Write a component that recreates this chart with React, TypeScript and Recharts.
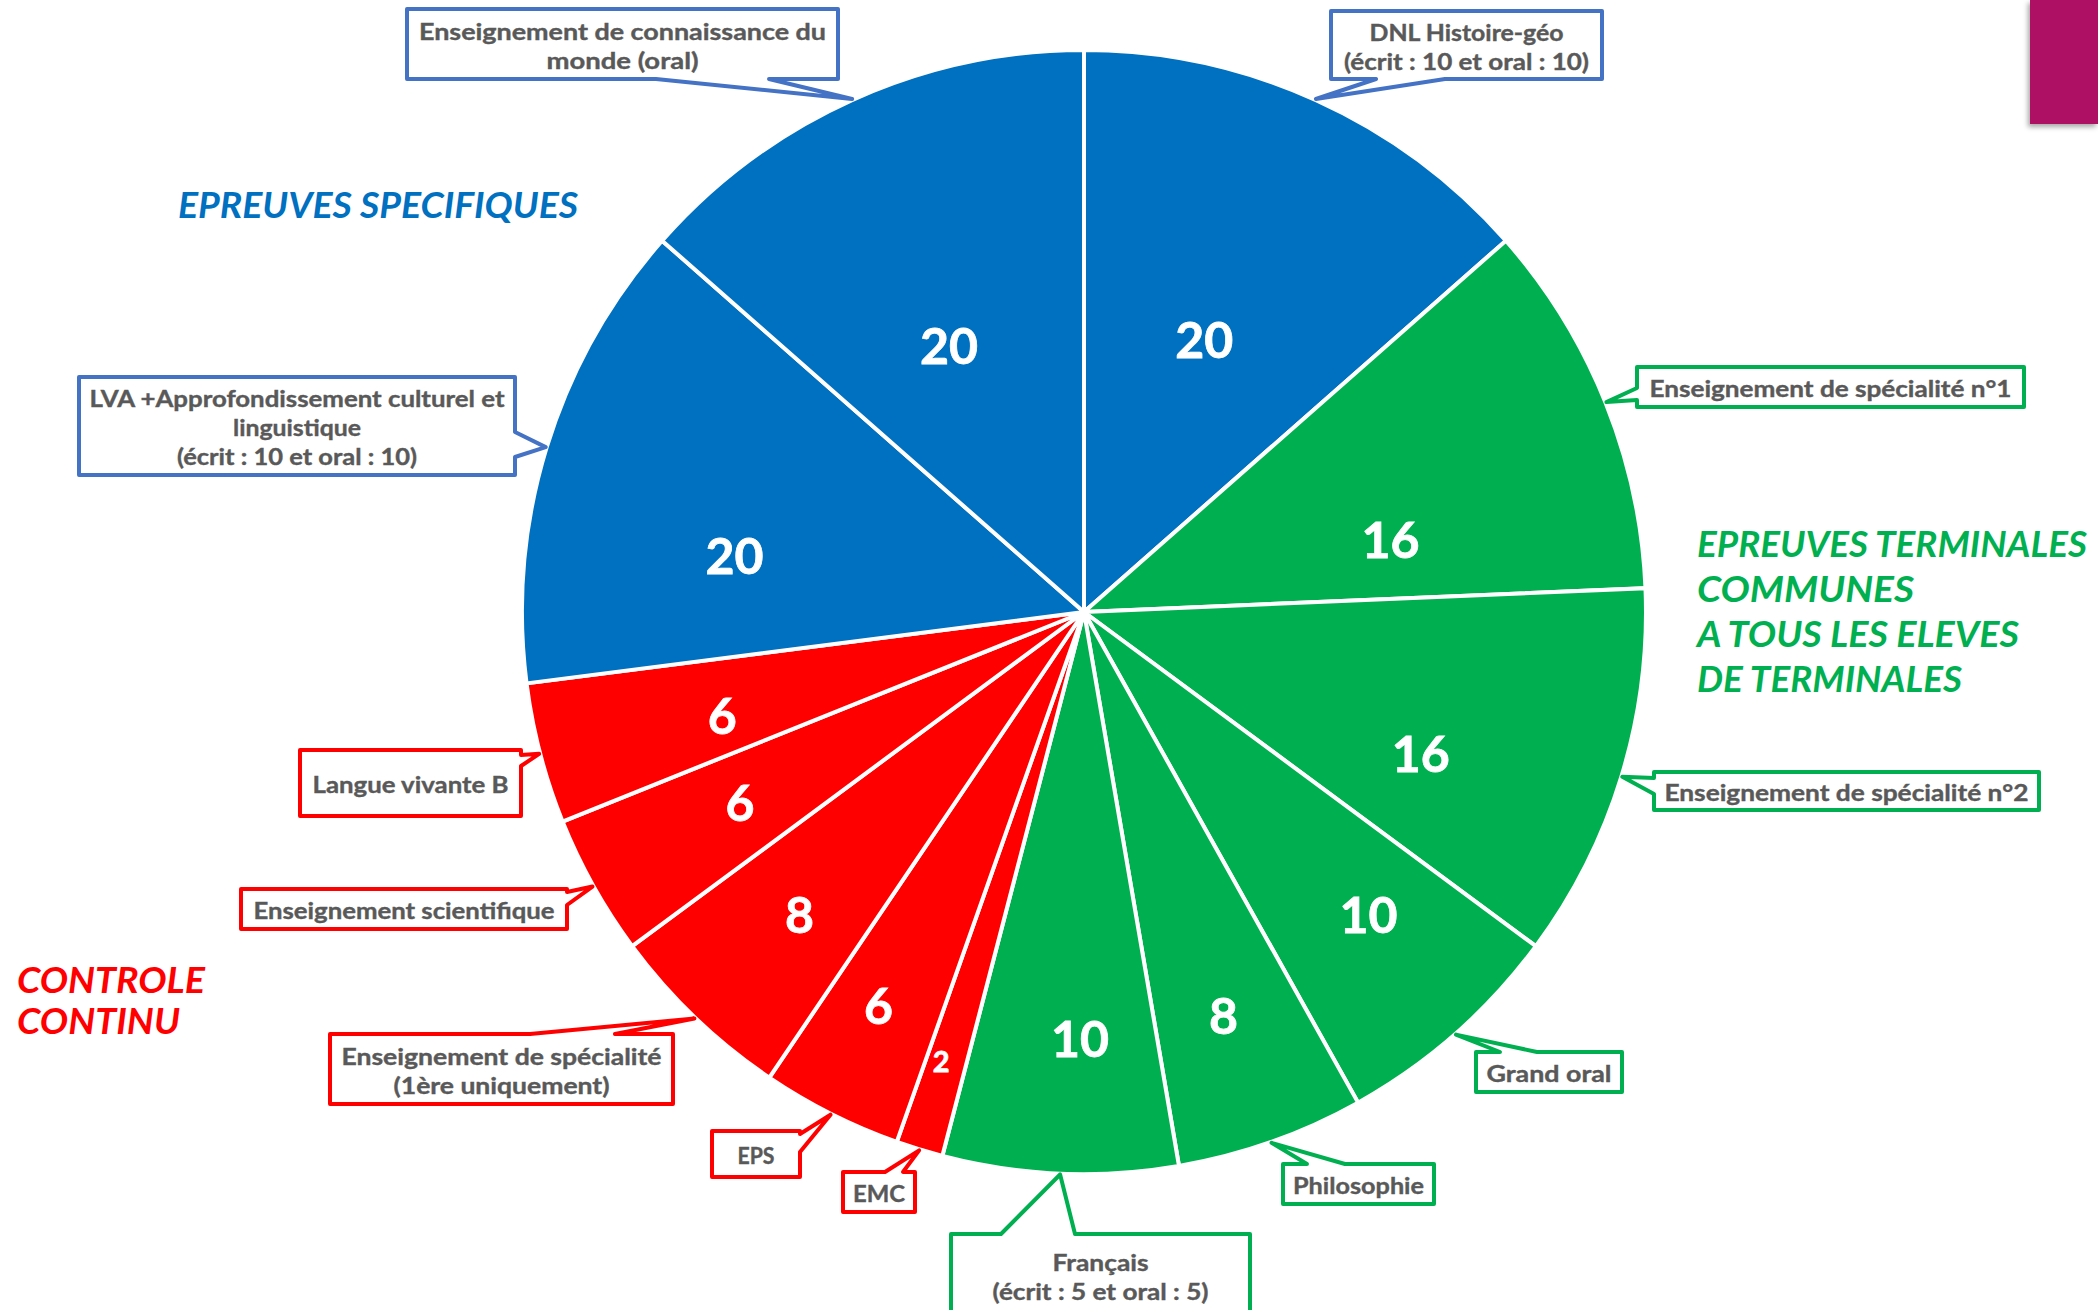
import React from "react"
import { PieChart, Pie, Cell } from "recharts"

// slices clockwise from 12 o'clock
const subjects = [
  "DNL Histoire-géo",
  "Enseignement de spécialité n°1",
  "Enseignement de spécialité n°2",
  "Grand oral",
  "Philosophie",
  "Français",
  "EMC",
  "EPS",
  "Enseignement de spécialité (1ère uniquement)",
  "Enseignement scientifique",
  "Langue vivante B",
  "LVA +Approfondissement culturel et linguistique",
  "Enseignement de connaissance du monde (oral)",
]
const coefficients = [20, 16, 16, 10, 8, 10, 2, 6, 8, 6, 6, 20, 20]
const groups = ["spe", "tc", "tc", "tc", "tc", "tc", "cc", "cc", "cc", "cc", "cc", "spe", "spe"]

const calloutLines = [
  ["DNL Histoire-géo", "(écrit : 10 et oral : 10)"],
  ["Enseignement de spécialité n°1"],
  ["Enseignement de spécialité n°2"],
  ["Grand oral"],
  ["Philosophie"],
  ["Français", "(écrit : 5 et oral : 5)"],
  ["EMC"],
  ["EPS"],
  ["Enseignement de spécialité", "(1ère uniquement)"],
  ["Enseignement scientifique"],
  ["Langue vivante B"],
  ["LVA +Approfondissement culturel et", "linguistique", "(écrit : 10 et oral : 10)"],
  ["Enseignement de connaissance du", "monde (oral)"],
]

const titleSpecifiques = ["EPREUVES SPECIFIQUES"]
const titleCommunes = ["EPREUVES TERMINALES", "COMMUNES", "A TOUS LES ELEVES", "DE TERMINALES"]
const titleContinu = ["CONTROLE", "CONTINU"]

// layout --------------------------------------------------------------
const FILL: Record<string, string> = { spe: "#0070C0", tc: "#00B050", cc: "#FF0000" }
const BORDER: Record<string, string> = { spe: "#4472C4", tc: "#00B050", cc: "#FF0000" }
const FONT = "Lato, 'Noto Sans', sans-serif"

const lineWidths = [
  [194, 245],
  [362],
  [364],
  [125],
  [131],
  [96, 216],
  [52],
  [37],
  [320, 216],
  [301],
  [196],
  [415, 128, 240],
  [407, 152],
]

type Box = { x: number; y: number; w: number; h: number; side: string; base: number[] }
const boxes: Box[] = [
  { x: 1331, y: 11, w: 271, h: 68, side: "bottom", base: [1376, 1445] },
  { x: 1637, y: 367, w: 387, h: 40, side: "left", base: [388, 400] },
  { x: 1654, y: 772, w: 385, h: 38, side: "left", base: [778, 794] },
  { x: 1476, y: 1052, w: 146, h: 40, side: "top", base: [1500, 1537] },
  { x: 1283, y: 1164, w: 151, h: 40, side: "top", base: [1307, 1345] },
  { x: 951, y: 1234, w: 299, h: 82, side: "top", base: [1001, 1075] },
  { x: 843, y: 1172, w: 72, h: 40, side: "top", base: [885, 903] },
  { x: 712, y: 1131, w: 88, h: 46, side: "right", base: [1134, 1152] },
  { x: 330, y: 1034, w: 343, h: 70, side: "top", base: [530, 615] },
  { x: 241, y: 889, w: 326, h: 40, side: "right", base: [892, 905] },
  { x: 300, y: 750, w: 221, h: 66, side: "right", base: [755, 766] },
  { x: 79, y: 377, w: 436, h: 98, side: "right", base: [432, 457] },
  { x: 407, y: 9, w: 431, h: 70, side: "bottom", base: [656, 769] },
]

// value label placement inside the slices (fraction of radius, clockwise nudge in degrees)
const valueRadius = [0.53, 0.56, 0.65, 0.74, 0.76, 0.76, 0.84, 0.79, 0.74, 0.7, 0.67, 0.63, 0.53]
const valueShift = [-0.5, 8.7, 5.8, -1.8, 0.4, -1.9, 0.6, 0.8, -0.6, 0.2, -1.5, -7.9, -2.6]

const data = subjects.map((name, i) => ({ name, value: coefficients[i], group: groups[i] }))

const RAD = Math.PI / 180
const polar = (cx: number, cy: number, r: number, angle: number) => [
  cx + r * Math.cos(-angle * RAD),
  cy + r * Math.sin(-angle * RAD),
]

function calloutPath(b: Box, tx: number, ty: number) {
  const { x, y, w, h, side, base } = b
  const pts: number[][] = [[x, y]]
  if (side === "top") pts.push([base[0], y], [tx, ty], [base[1], y])
  pts.push([x + w, y])
  if (side === "right") pts.push([x + w, base[0]], [tx, ty], [x + w, base[1]])
  pts.push([x + w, y + h])
  if (side === "bottom") pts.push([base[1], y + h], [tx, ty], [base[0], y + h])
  pts.push([x, y + h])
  if (side === "left") pts.push([x, base[1]], [tx, ty], [x, base[0]])
  return "M" + pts.map((p) => `${p[0]},${p[1]}`).join("L") + "Z"
}

const renderLabel = (props: any) => {
  const { cx, cy, midAngle, outerRadius, index, value } = props
  const b = boxes[index]
  const [tx, ty] = polar(cx, cy, outerRadius + 1, midAngle)
  const [vx, vy] = polar(cx, cy, outerRadius * valueRadius[index], midAngle - valueShift[index])
  const lines = calloutLines[index]
  const mid = b.y + b.h / 2 + 2
  return (
    <g key={`lbl-${index}`}>
      <path
        d={calloutPath(b, tx, ty)}
        fill="#fff"
        stroke={BORDER[groups[index]]}
        strokeWidth={4}
        strokeLinejoin="round"
      />
      {lines.map((t, i) => (
        <text
          key={i}
          x={b.x + b.w / 2}
          y={mid + (i - (lines.length - 1) / 2) * 29}
          dy="0.36em"
          textAnchor="middle"
          fontFamily={FONT}
          fontWeight={700}
          fontSize={23}
          fill="#595959"
          stroke="#595959"
          strokeWidth={0.4}
          textLength={lineWidths[index][i]}
          lengthAdjust="spacingAndGlyphs"
        >
          {t}
        </text>
      ))}
      <text
        x={vx}
        y={vy}
        dy="0.36em"
        textAnchor="middle"
        fontFamily={FONT}
        fontWeight={700}
        fontSize={value === 2 ? 29 : 50}
        fill="#fff"
        stroke="#fff"
        strokeWidth={0.8}
      >
        {value}
      </text>
    </g>
  )
}

function Titles() {
  const common = { fontFamily: FONT, fontWeight: 700, fontStyle: "italic", fontSize: 36, lengthAdjust: "spacingAndGlyphs" as const }
  const greenWidths = [390, 217, 322, 265]
  const redWidths = [188, 163]
  return (
    <svg width={2098} height={1310} style={{ position: "absolute", left: 0, top: 0, pointerEvents: "none" }}>
      {titleSpecifiques.map((t) => (
        <text key={t} x={178} y={218} fill="#0070C0" textLength={400} {...common}>
          {t}
        </text>
      ))}
      {titleCommunes.map((t, i) => (
        <text key={t} x={1697} y={557 + i * 45} fill="#00B050" textLength={greenWidths[i]} {...common}>
          {t}
        </text>
      ))}
      {titleContinu.map((t, i) => (
        <text key={t} x={17} y={993 + i * 41} fill="#FF0000" textLength={redWidths[i]} {...common}>
          {t}
        </text>
      ))}
    </svg>
  )
}

export default function App() {
  return (
    <div
      style={{
        position: "absolute",
        left: 0,
        top: 0,
        width: 2098,
        height: 1310,
        background: "#fff",
        overflow: "hidden",
      }}
    >
      <PieChart width={2098} height={1310} margin={{ top: 0, right: 0, bottom: 0, left: 0 }}>
        <Pie
          data={data}
          dataKey="value"
          nameKey="name"
          cx={1084}
          cy={612}
          outerRadius={562}
          startAngle={90}
          endAngle={-270}
          stroke="#fff"
          strokeWidth={4}
          label={renderLabel}
          labelLine={false}
          isAnimationActive={false}
        >
          {data.map((d, i) => (
            <Cell key={i} fill={FILL[d.group]} />
          ))}
        </Pie>
      </PieChart>
      <Titles />
      <div
        style={{
          position: "absolute",
          left: 2030,
          top: 0,
          width: 68,
          height: 124,
          background: "#AE1163",
          boxShadow: "-2px 3px 5px rgba(0,0,0,0.35)",
        }}
      />
    </div>
  )
}
